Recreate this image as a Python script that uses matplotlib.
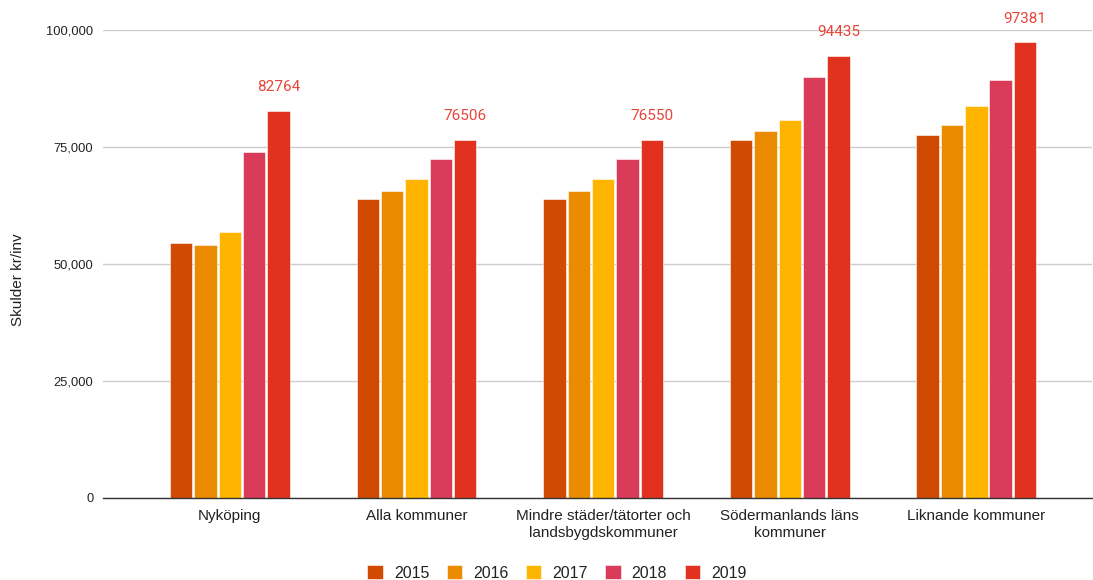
import matplotlib
matplotlib.use("Agg")
import matplotlib.pyplot as plt
import numpy as np

categories = ["Nyköping", "Alla kommuner", "Mindre städer/tätorter och\nlandsbygdskommuner",
              "Södermanlands läns\nkommuner", "Liknande kommuner"]
years = ["2015", "2016", "2017", "2018", "2019"]
v2015 = [54400, 63800, 63800, 76500, 77600]
v2016 = [54100, 65500, 65700, 78500, 79800]
v2017 = [56800, 68200, 68200, 80700, 83700]
v2018 = [74000, 72400, 72400, 90000, 89300]
v2019 = [82764, 76506, 76550, 94435, 97381]
series = [v2015, v2016, v2017, v2018, v2019]
colors = ["#D04A02", "#EA8B00", "#FFB400", "#DA3B58", "#E0321F"]
yticks = [0, 25000, 50000, 75000, 100000]
ytick_labels = ["0", "25,000", "50,000", "75,000", "100,000"]

plt.rcParams['font.family'] = ['Liberation Sans', 'DejaVu Sans']

fig = plt.figure(figsize=(10.93, 5.80), dpi=100)
W, H = 1093, 580
ax = fig.add_axes([103 / W, (H - 498) / H, (1092 - 103) / W, (498 - 30) / H])

x = np.arange(len(categories))
step = 0.1305
width = 0.12
for i, (vals, c, yr) in enumerate(zip(series, colors, years)):
    pos = x + (i - 2) * step
    ax.bar(pos, vals, width=width, color=c, label=yr, edgecolor='white', linewidth=0.4, zorder=3)
    if i == 4:
        for px, v in zip(pos, vals):
            ax.annotate(str(v), (px, v), xytext=(0, 17), textcoords='offset points',
                        ha='center', va='center', color="#E8453A", fontsize=11,
                        family=['Roboto', 'DejaVu Sans'], annotation_clip=False)

ax.set_xlim(-0.68, 4.62)
ax.set_ylim(0, 100000)
ax.set_yticks(yticks)
ax.set_yticklabels(ytick_labels, fontsize=9.3, color="#222222")
ax.set_xticks(x)
ax.set_xticklabels(categories, fontsize=11, color="#222222", linespacing=1.3)
ax.tick_params(axis='both', length=0, pad=7)
ax.tick_params(axis='x', pad=8)
ax.grid(axis='y', color="#CCCCCC", linewidth=1, zorder=0)
for s in ['top', 'right', 'left']:
    ax.spines[s].set_visible(False)
ax.spines['bottom'].set_color("#333333")
ax.spines['bottom'].set_linewidth(1)
ax.spines['bottom'].set_zorder(4)

fig.text(18 / W, 1 - 280 / H, "Skulder kr/inv", rotation=90, ha='center', va='center',
         fontsize=11, color="#222222")

leg = fig.legend(loc='center', bbox_to_anchor=(557 / W, 1 - 573 / H), ncol=5, frameon=False,
                 fontsize=11.5, handlelength=0.95, handleheight=0.95, columnspacing=1.1,
                 handletextpad=0.7)
for t in leg.get_texts():
    t.set_color("#222222")

fig.savefig("out.png", dpi=100)
